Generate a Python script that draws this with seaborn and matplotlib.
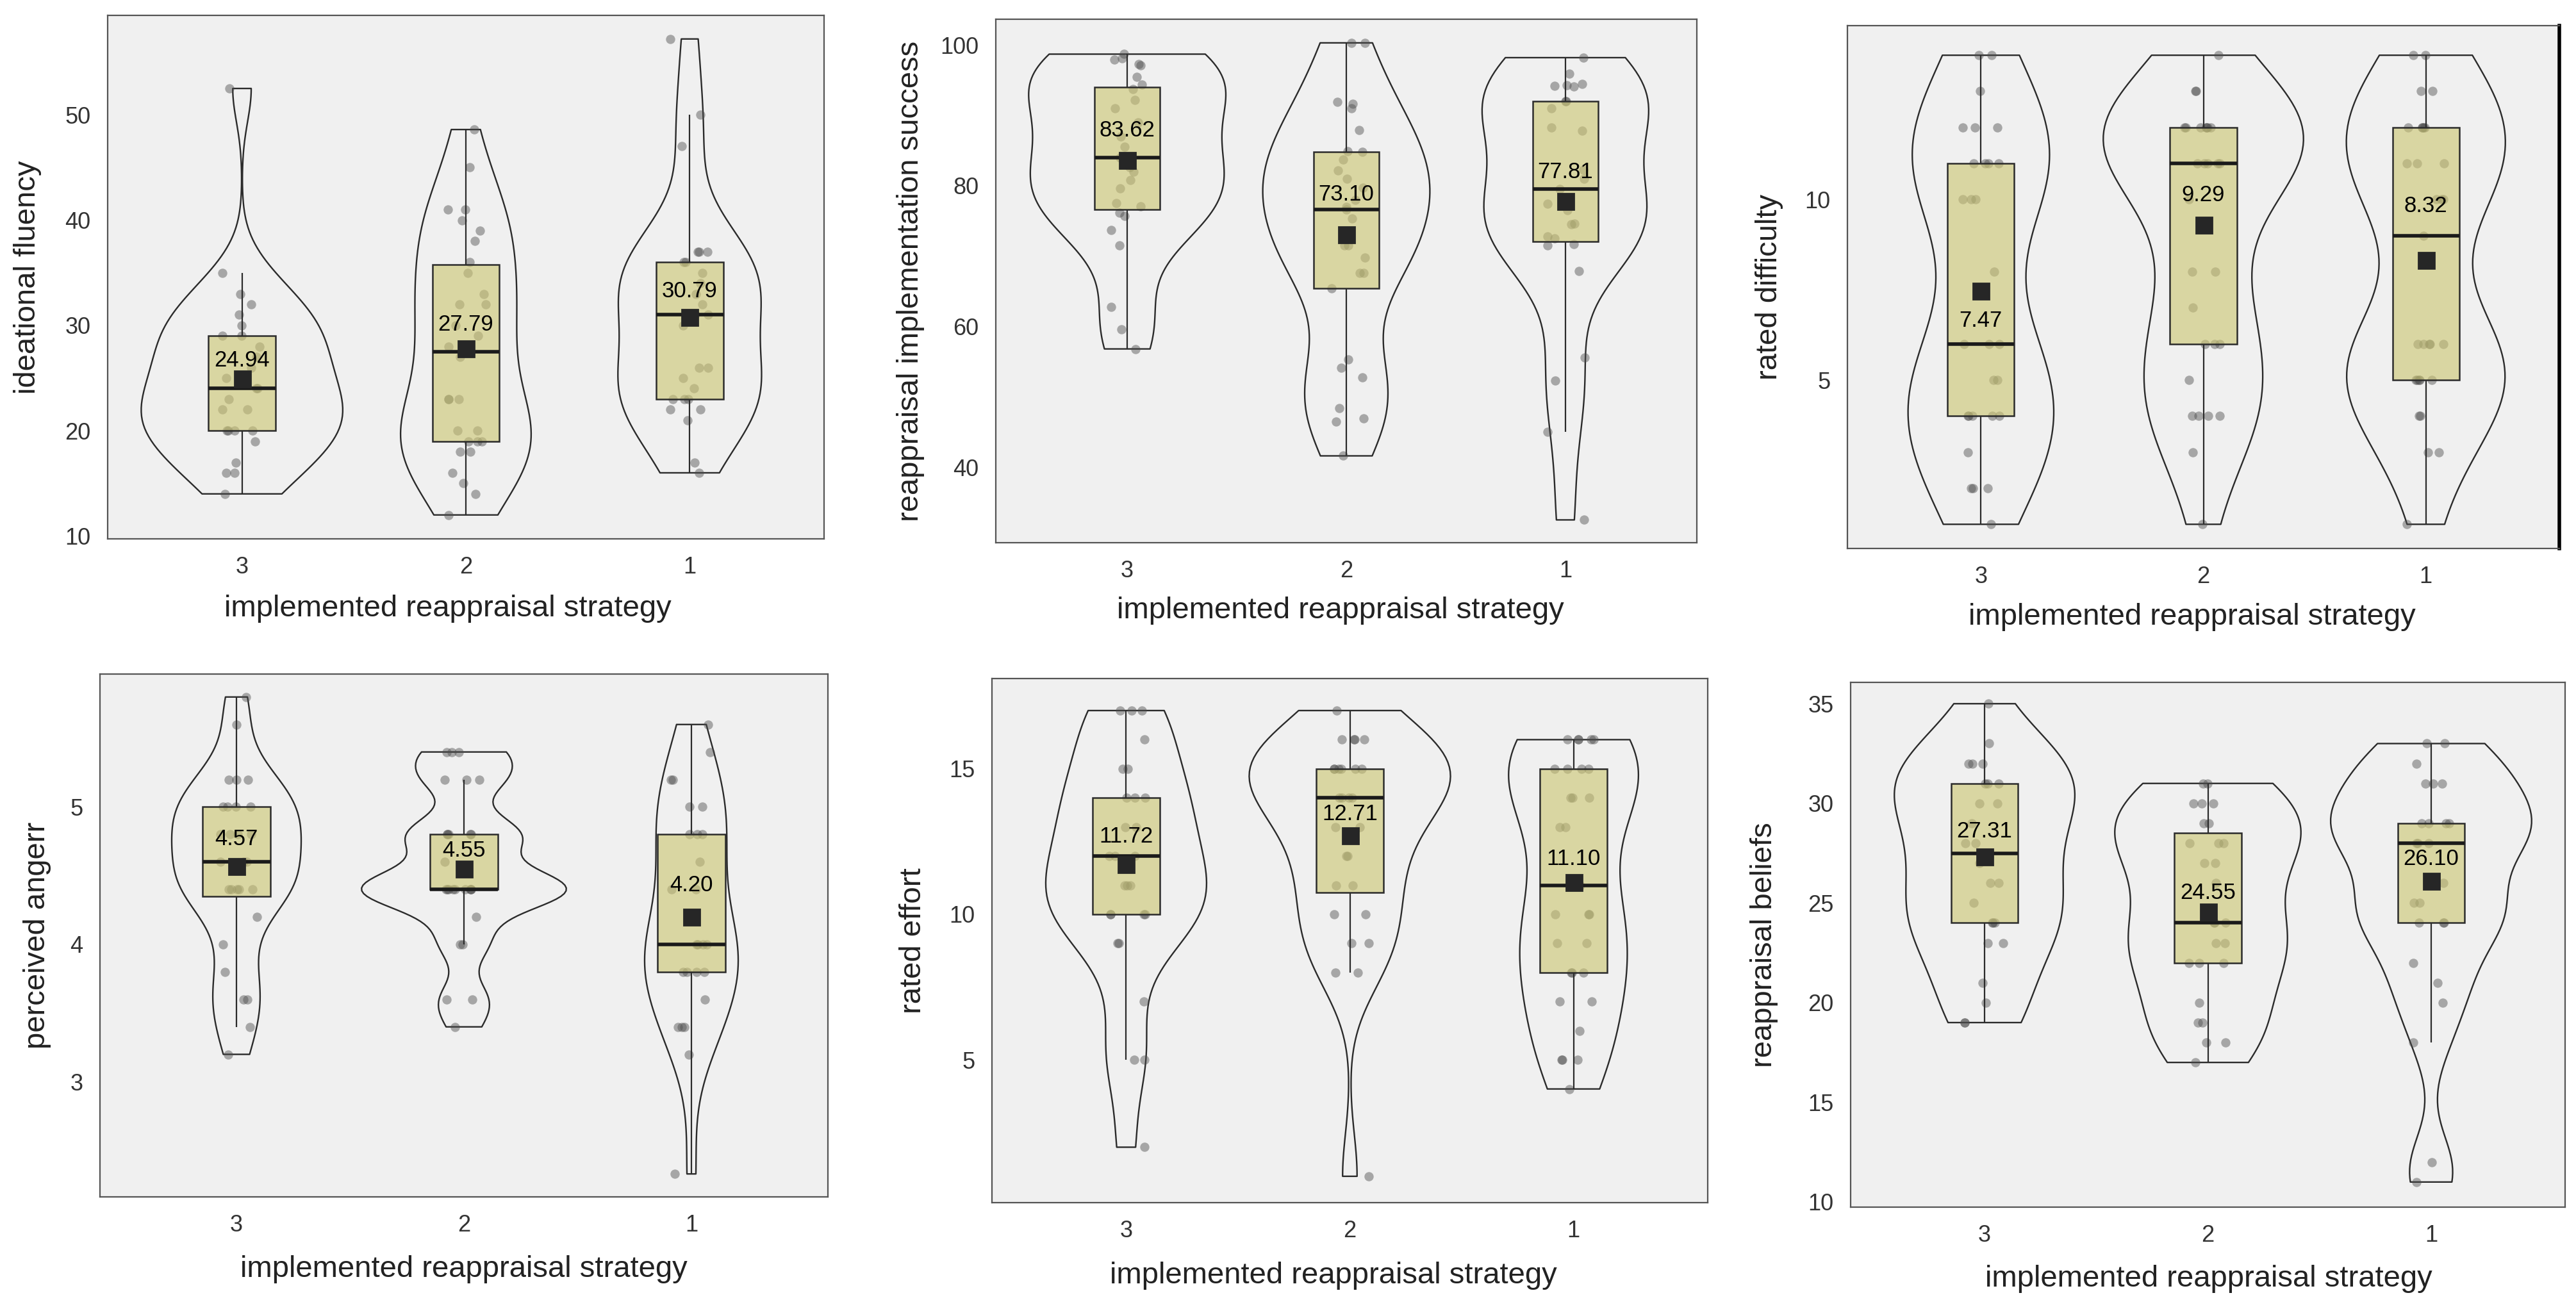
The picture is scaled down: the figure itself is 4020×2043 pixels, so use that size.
import numpy as np
import pandas as pd
import matplotlib
matplotlib.use('Agg')
import matplotlib.pyplot as plt
import seaborn as sns

# Categories (left to right on every panel)
STRATEGIES = ['3', '2', '1']
XLABEL = 'implemented reappraisal strategy'

# ideational fluency
fluency_s3 = [52.5, 35, 33, 32, 31, 30, 29, 29, 28, 27, 26, 25, 24, 24, 23, 22, 22,
              20, 20, 20, 20, 19, 17, 16, 16, 14]
fluency_s2 = [48.6, 45, 41, 41, 40, 39, 38, 36, 35, 33, 32, 32, 30, 29, 28, 27, 23,
              23, 23, 20, 20, 19, 19, 19, 18, 18, 16, 15, 14, 12]
fluency_s1 = [57.2, 50, 47, 37, 37, 37, 36, 36, 35, 34, 33, 32, 31, 31, 30, 26, 26,
              25, 24, 23, 23, 23, 22, 22, 21, 17, 16]
fluency_means = [24.94, 27.79, 30.79]

# reappraisal implementation success
success_s3 = [98.7, 98.1, 97.9, 97.3, 97.1, 95.5, 94.4, 93.7, 92.2, 91.0, 89.0, 87.0,
              85.5, 84.0, 82.6, 82.0, 80.8, 79.6, 77.5, 77.1, 76.2, 75.7, 73.7, 71.5,
              62.8, 59.6, 56.8]
success_s2 = [100.3, 100.3, 91.9, 91.6, 91.0, 87.9, 84.9, 84.8, 83.7, 82.2, 81.0, 79.7,
              78.0, 77.0, 76.6, 75.3, 71.5, 71.5, 69.8, 67.6, 67.6, 65.4, 55.3, 54.1,
              52.8, 48.4, 46.9, 46.5, 41.6]
success_s1 = [98.2, 95.9, 94.5, 94.3, 94.2, 94.1, 92.0, 92.0, 91.0, 88.3, 87.8, 82.3,
              81.0, 79.5, 77.4, 76.5, 74.6, 74.5, 72.8, 72.5, 71.7, 71.5, 67.9, 55.6,
              52.3, 45.0, 32.5]
success_means = [83.62, 73.10, 77.81]

# rated difficulty
difficulty_s3 = [14, 14, 13, 12, 12, 12, 11, 11, 11, 11, 10, 10, 10, 8, 6, 6, 6, 5, 5,
                 4, 4, 4, 4, 4, 3, 2, 2, 2, 1]
difficulty_s2 = [14, 13, 13, 12, 12, 12, 12, 12, 12, 12, 11, 11, 11, 11, 11, 10, 8, 8,
                 7, 6, 6, 6, 5, 4, 4, 4, 4, 3, 1]
difficulty_s1 = [14, 14, 13, 13, 12, 12, 12, 12, 12, 11, 11, 11, 10, 10, 10, 9, 6, 6,
                 6, 6, 6, 5, 5, 5, 5, 5, 4, 4, 3, 3, 1]
difficulty_means = [7.47, 9.29, 8.32]

# perceived anger
anger_s3 = [5.8, 5.6, 5.2, 5.2, 5.2, 5.0, 5.0, 5.0, 5.0, 4.8, 4.8, 4.8, 4.8, 4.6, 4.6,
            4.6, 4.4, 4.4, 4.4, 4.4, 4.4, 4.2, 4.0, 3.8, 3.6, 3.6, 3.4, 3.2]
anger_s2 = [5.4, 5.4, 5.4, 5.2, 5.2, 5.2, 4.8, 4.8, 4.8, 4.8, 4.8, 4.6, 4.4, 4.4, 4.4,
            4.4, 4.4, 4.4, 4.4, 4.4, 4.4, 4.2, 4.0, 4.0, 3.6, 3.6, 3.4]
anger_s1 = [5.6, 5.4, 5.2, 5.2, 5.0, 5.0, 4.8, 4.8, 4.8, 4.6, 4.4, 4.4, 4.2, 4.0, 4.0,
            4.0, 4.0, 3.8, 3.8, 3.8, 3.8, 3.6, 3.4, 3.4, 3.4, 3.2, 2.33]
anger_means = [4.57, 4.55, 4.20]

# rated effort
effort_s3 = [17, 17, 17, 16, 15, 15, 14, 14, 14, 13, 13, 12, 12, 12, 11, 11, 11, 10,
             10, 10, 10, 9, 9, 7, 5, 5, 2]
effort_s2 = [17, 16, 16, 16, 16, 15, 15, 15, 15, 15, 15, 14, 14, 14, 14, 13, 13, 12,
             12, 11, 11, 10, 10, 9, 9, 8, 8, 1]
effort_s1 = [16, 16, 16, 16, 16, 15, 15, 15, 15, 14, 14, 14, 13, 13, 11, 11, 10, 10,
             10, 9, 9, 8, 8, 8, 7, 7, 6, 5, 5, 5, 4]
effort_means = [11.72, 12.71, 11.10]

# reappraisal beliefs
beliefs_s3 = [35, 33, 32, 32, 32, 31, 31, 31, 30, 30, 29, 28, 28, 27, 26, 26, 25, 24,
              24, 24, 23, 23, 21, 20, 19, 19]
beliefs_s2 = [31, 31, 30, 30, 30, 29, 29, 28, 28, 28, 27, 27, 26, 24, 24, 24, 23, 23,
              22, 22, 22, 20, 19, 19, 18, 18, 17]
beliefs_s1 = [33, 33, 32, 31, 31, 31, 29, 29, 29, 29, 28, 28, 28, 26, 25, 25, 24, 24,
              24, 22, 21, 20, 18, 12, 11]
beliefs_means = [27.31, 24.55, 26.10]

# Colours
BG = '#F0F0F0'
LINE = '#2b2b2b'
BOX_FILL = (0.80, 0.776, 0.45, 0.62)
POINT = '#4d4d4d'
MEAN = '#262626'

W, H = 4020, 2043


def px_rect(left, top, right, bottom):
    return [left / W, 1 - bottom / H, (right - left) / W, (bottom - top) / H]


def nrd0(kde):
    # R's default bandwidth (bw.nrd0), expressed as a factor of the sd
    x = kde.dataset[0]
    sd = np.std(x, ddof=1)
    q75, q25 = np.percentile(x, [75, 25])
    lo = min(sd, (q75 - q25) / 1.34) if q75 > q25 else sd
    return 0.9 * lo * len(x) ** -0.2 / sd


def long_frame(groups):
    rows = []
    for name, vals in zip(STRATEGIES, groups):
        rows += [{'strategy': name, 'value': v} for v in vals]
    return pd.DataFrame(rows)


def draw_panel(ax, p):
    df = long_frame(p['groups'])
    kw = dict(data=df, x='strategy', y='value', order=STRATEGIES, ax=ax)
    sns.violinplot(**kw, cut=0, inner=None, width=0.9, fill=False, color=LINE,
                   linecolor=LINE, linewidth=0.85, saturation=1,
                   bw_method=nrd0, density_norm='area')
    sns.stripplot(**kw, jitter=0.09, color=POINT, alpha=0.45, size=5.2,
                  linewidth=0, zorder=1.5)
    sns.boxplot(**kw, width=0.3, whis=1.5, showfliers=False, showcaps=False,
                color=BOX_FILL[:3], linecolor=LINE, linewidth=0.9, saturation=1,
                boxprops=dict(facecolor=BOX_FILL),
                medianprops=dict(color='#1a1a1a', linewidth=2.0),
                whiskerprops=dict(color=LINE, linewidth=0.8))
    ax.plot(range(len(STRATEGIES)), p['means'], 's', ms=9, color=MEAN, zorder=5)
    for i, (m, off) in enumerate(zip(p['means'], p['offsets'])):
        ax.annotate(f'{m:.2f}', (i, m), xytext=(0, off), textcoords='offset points',
                    ha='center', va='center', fontsize=12.5, color='black', zorder=6)

    ax.set_facecolor(BG)
    ax.set_xlim(-0.6, 2.6)
    ax.set_ylim(*p['ylim'])
    ax.set_yticks(p['yticks'])
    ax.set_xticks(range(3))
    ax.set_xticklabels(STRATEGIES)
    ax.grid(False)
    for s in ax.spines.values():
        s.set_visible(True)
        s.set_color('#555555')
        s.set_linewidth(0.8)
    ax.tick_params(axis='both', direction='out', length=3.6, width=0.9,
                   color=LINE, labelsize=13, labelcolor='#333333', pad=6,
                   top=False, right=False)
    ax.set_xlabel(XLABEL, fontsize=17, color='#222222', va='center')
    ax.set_ylabel(p['ylabel'], fontsize=17, color='#222222', va='center')
    ax.xaxis.set_label_coords(*p['xlab_at'])
    ax.yaxis.set_label_coords(*p['ylab_at'])


def main():
    np.random.seed(11)
    sns.set_style('white')
    plt.rcParams['font.family'] = ['Liberation Sans', 'DejaVu Sans']

    panels = [
        dict(groups=[fluency_s3, fluency_s2, fluency_s1], means=fluency_means,
             ylabel='ideational fluency', yticks=[10, 20, 30, 40, 50],
             ylim=(9.73, 59.44), offsets=[10.4, 13.7, 14.7],
             rect=px_rect(168, 24, 1286, 841),
             xlab_at=(0.475, -0.133), ylab_at=(-0.112, 0.5)),
        dict(groups=[success_s3, success_s2, success_s1], means=success_means,
             ylabel='reappraisal implementation success', yticks=[40, 60, 80, 100],
             ylim=(29.26, 103.66), offsets=[16.9, 22.3, 16.2],
             rect=px_rect(1554, 30, 2648, 847),
             xlab_at=(0.492, -0.130), ylab_at=(-0.122, 0.5)),
        dict(groups=[difficulty_s3, difficulty_s2, difficulty_s1],
             means=difficulty_means, ylabel='rated difficulty', yticks=[5, 10],
             ylim=(0.33, 14.82), offsets=[-16.9, 16.9, 30.6],
             rect=px_rect(2883, 40, 3994, 856),
             xlab_at=(0.484, -0.131), ylab_at=(-0.110, 0.5)),
        dict(groups=[anger_s3, anger_s2, anger_s1], means=anger_means,
             ylabel='perceived angerr', yticks=[3, 4, 5],
             ylim=(2.163, 5.967), offsets=[15.1, 10.4, 18.0],
             rect=px_rect(156, 1052, 1292, 1868),
             xlab_at=(0.500, -0.138), ylab_at=(-0.086, 0.5)),
        dict(groups=[effort_s3, effort_s2, effort_s1], means=effort_means,
             ylabel='rated effort', yticks=[5, 10, 15],
             ylim=(0.095, 18.10), offsets=[15.5, 11.9, 13.3],
             rect=px_rect(1548, 1059, 2665, 1877),
             xlab_at=(0.477, -0.139), ylab_at=(-0.110, 0.5)),
        dict(groups=[beliefs_s3, beliefs_s2, beliefs_s1], means=beliefs_means,
             ylabel='reappraisal beliefs', yticks=[10, 15, 20, 25, 30, 35],
             ylim=(9.74, 36.07), offsets=[14.4, 10.8, 12.6],
             rect=px_rect(2888, 1065, 4003, 1884),
             xlab_at=(0.501, -0.137), ylab_at=(-0.121, 0.5)),
    ]

    fig = plt.figure(figsize=(W / 200, H / 200), dpi=200)
    axes = []
    for p in panels:
        ax = fig.add_axes(p['rect'])
        draw_panel(ax, p)
        axes.append(ax)

    # the difficulty panel has a heavier right border in the original
    axes[2].spines['right'].set_color('black')
    axes[2].spines['right'].set_linewidth(2.0)

    fig.savefig('out.png', dpi=200, facecolor='white')
    plt.close(fig)
    print('  saved: out.png')


if __name__ == '__main__':
    main()
